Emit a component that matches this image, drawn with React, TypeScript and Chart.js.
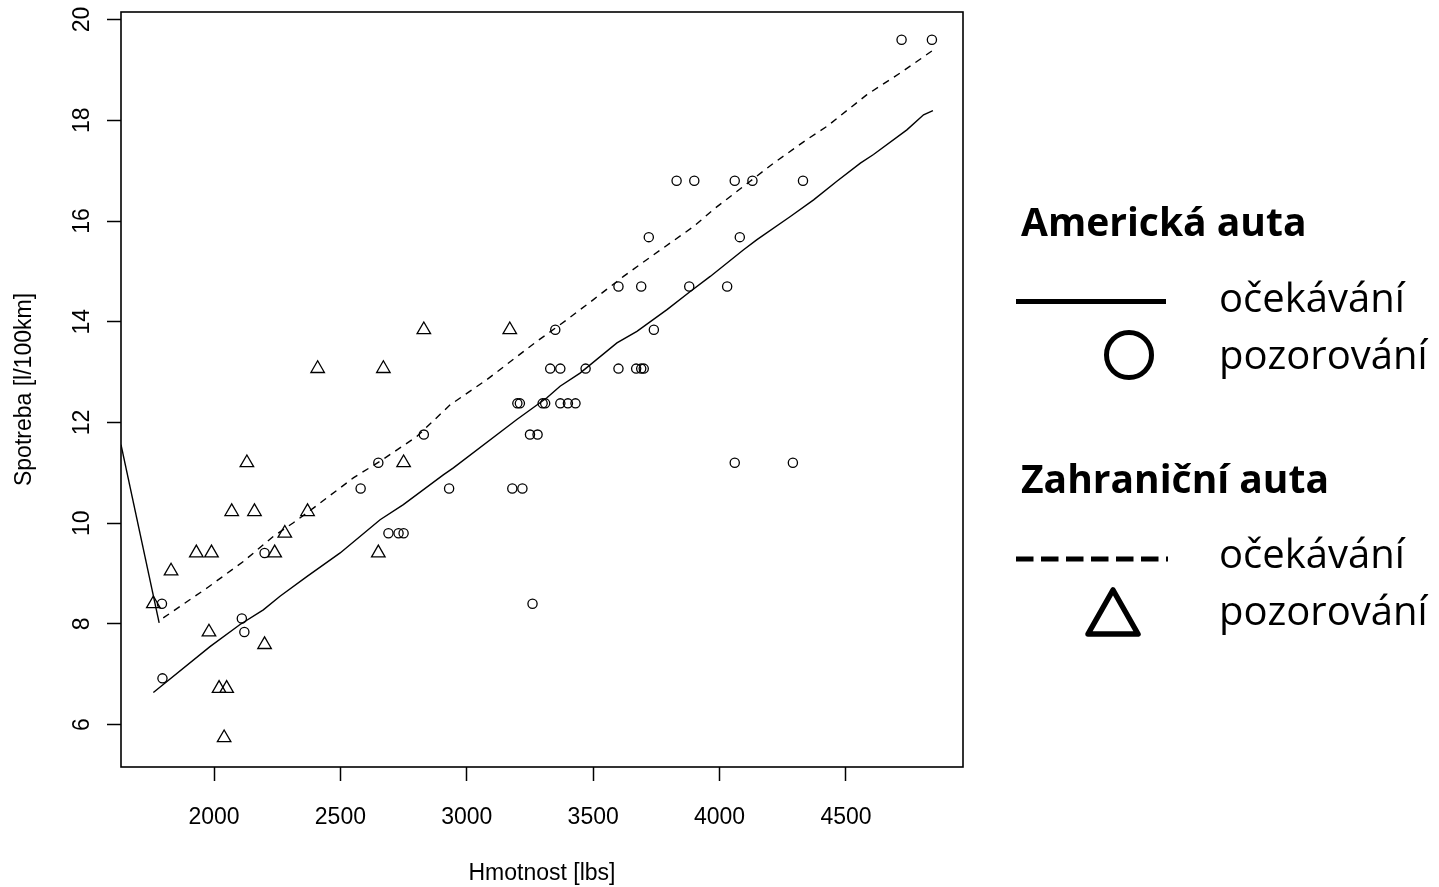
import React, { useEffect, useRef } from 'react';
import { Chart, registerables } from 'chart.js';

Chart.register(...registerables);

// Observed: American cars (weight [lbs], consumption [l/100km])
const americanWeight = [
  1794, 1796, 2110, 2120, 2200, 2580, 2650, 2690, 2730, 2750, 2830, 2930,
  3180, 3220, 3200, 3210, 3250, 3280, 3260, 3300, 3310, 3370, 3400, 3430,
  3330, 3370, 3470, 3600, 3670, 3690, 3700, 3350, 3740, 3600, 3690, 3880,
  4030, 3720, 4080, 3830, 3900, 4060, 4130, 4330, 4060, 4290, 4720, 4840,
];
const americanConsumption = [
  8.4, 6.92, 8.11, 7.84, 9.41, 10.69, 11.2, 9.8, 9.8, 9.8, 11.76, 10.69,
  10.69, 10.69, 12.38, 12.38, 11.76, 11.76, 8.4, 12.38, 12.38, 12.38, 12.38, 12.38,
  13.07, 13.07, 13.07, 13.07, 13.07, 13.07, 13.07, 13.84, 13.84, 14.7, 14.7, 14.7,
  14.7, 15.68, 15.68, 16.8, 16.8, 16.8, 16.8, 16.8, 11.2, 11.2, 19.6, 19.6,
];

// Observed: foreign cars
const foreignWeight = [
  1760, 1830, 1930, 1990, 1980, 2020, 2050, 2040, 2070, 2130, 2160, 2200,
  2240, 2280, 2370, 2410, 2650, 2670, 2750, 2830, 3170,
];
const foreignConsumption = [
  8.4, 9.05, 9.41, 9.41, 7.84, 6.72, 6.72, 5.74, 10.23, 11.2, 10.23, 7.59,
  9.41, 9.8, 10.23, 13.07, 9.41, 13.07, 11.2, 13.84, 13.84,
];

// Expected: American cars (solid)
const americanFitWeight = [
  1760, 1984, 2103, 2195, 2261, 2367, 2499, 2657, 2749, 2907, 2947, 3198,
  3317, 3369, 3448, 3594, 3673, 3792, 3884, 3963, 4095, 4148, 4280, 4372,
  4464, 4557, 4609, 4741, 4807, 4844,
];
const americanFitConsumption = [
  6.64, 7.55, 7.99, 8.28, 8.55, 8.94, 9.41, 10.07, 10.37, 10.96, 11.1, 12.06,
  12.49, 12.72, 12.98, 13.58, 13.81, 14.24, 14.6, 14.9, 15.43, 15.63, 16.09, 16.42,
  16.79, 17.15, 17.32, 17.81, 18.11, 18.19,
];

// Expected: foreign cars (dashed)
const foreignFitWeight = [
  1799, 1971, 2116, 2235, 2314, 2393, 2551, 2657, 2802, 2934, 3079, 3277,
  3396, 3501, 3620, 3739, 3897, 3976, 4121, 4214, 4346, 4425, 4583, 4715, 4847,
];
const foreignFitConsumption = [
  8.12, 8.71, 9.24, 9.74, 10.01, 10.3, 10.9, 11.23, 11.72, 12.35, 12.85, 13.61,
  14.04, 14.44, 14.9, 15.33, 15.89, 16.23, 16.79, 17.15, 17.62, 17.88, 18.51, 18.94, 19.4,
];
// Solid lead-in segment entering from the left edge
const foreignLeadWeight = [1632, 1783];
const foreignLeadConsumption = [11.56, 8.02];

const xTicks = [2000, 2500, 3000, 3500, 4000, 4500];
const yTicks = [6, 8, 10, 12, 14, 16, 18, 20];
const xRange = [1632, 4963];
const yRange = [5.16, 20.15];

const toPoints = (xs: number[], ys: number[]) => xs.map((x, i) => ({ x, y: ys[i] }));

const AXIS_FONT = 'Liberation Sans, Arial, sans-serif';
const LEGEND_FONT = 'Open Sans, sans-serif';

const framePlugin = {
  id: 'frame',
  afterDatasetsDraw(chart: any) {
    const { ctx, chartArea: a } = chart;
    ctx.save();
    ctx.strokeStyle = '#000';
    ctx.lineWidth = 1.6;
    ctx.strokeRect(a.left, a.top, a.right - a.left, a.bottom - a.top);
    ctx.restore();
  },
};

export default function App() {
  const canvasRef = useRef<HTMLCanvasElement | null>(null);

  useEffect(() => {
    const canvas = canvasRef.current;
    if (!canvas) return;
    const lineCommon = {
      showLine: true,
      pointRadius: 0,
      pointHoverRadius: 0,
      borderColor: '#000',
      borderWidth: 1.4,
      backgroundColor: 'transparent',
      fill: false,
      tension: 0,
    };
    const chart = new Chart(canvas, {
      type: 'scatter',
      data: {
        datasets: [
          {
            label: 'Americká auta – očekávání',
            data: toPoints(americanFitWeight, americanFitConsumption),
            ...lineCommon,
          },
          {
            label: 'Zahraniční auta – očekávání',
            data: toPoints(foreignFitWeight, foreignFitConsumption),
            ...lineCommon,
            borderDash: [7, 6],
          },
          {
            label: 'Zahraniční auta – očekávání (začátek)',
            data: toPoints(foreignLeadWeight, foreignLeadConsumption),
            ...lineCommon,
          },
          {
            label: 'Americká auta – pozorování',
            data: toPoints(americanWeight, americanConsumption),
            pointStyle: 'circle',
            pointRadius: 4.6,
            pointBorderWidth: 1.3,
            pointBorderColor: '#000',
            pointBackgroundColor: 'transparent',
            showLine: false,
          },
          {
            label: 'Zahraniční auta – pozorování',
            data: toPoints(foreignWeight, foreignConsumption),
            pointStyle: 'triangle',
            pointRadius: 7.8,
            pointBorderWidth: 1.3,
            pointBorderColor: '#000',
            pointBackgroundColor: 'transparent',
            showLine: false,
          },
        ],
      },
      options: {
        animation: false,
        responsive: false,
        devicePixelRatio: 1,
        events: [],
        layout: { padding: { left: 0, top: 12, right: 476, bottom: 0 } },
        plugins: {
          legend: { display: false },
          tooltip: { enabled: false },
          title: { display: false },
        },
        scales: {
          x: {
            type: 'linear',
            min: xRange[0],
            max: xRange[1],
            afterBuildTicks: (s: any) => {
              s.ticks = xTicks.map((v) => ({ value: v }));
            },
            afterFit: (s: any) => {
              s.height = 120;
              s.paddingLeft = 0;
              s.paddingRight = 0;
            },
            ticks: {
              color: '#000',
              font: { family: AXIS_FONT, size: 23 },
              padding: 23,
              maxRotation: 0,
              minRotation: 0,
              autoSkip: false,
              callback: (v: any) => String(v),
            },
            grid: {
              drawOnChartArea: false,
              drawTicks: true,
              tickLength: 14,
              color: '#000',
              tickWidth: 1.5,
            },
            border: { display: false },
            title: {
              display: true,
              text: 'Hmotnost [lbs]',
              color: '#000',
              font: { family: AXIS_FONT, size: 23 },
              padding: { top: 0, bottom: 0 },
            },
          },
          y: {
            type: 'linear',
            min: yRange[0],
            max: yRange[1],
            afterBuildTicks: (s: any) => {
              s.ticks = yTicks.map((v) => ({ value: v }));
            },
            afterFit: (s: any) => {
              s.width = 121;
              s.paddingTop = 0;
              s.paddingBottom = 0;
            },
            ticks: {
              color: '#000',
              font: { family: AXIS_FONT, size: 23 },
              padding: 12,
              minRotation: 90,
              maxRotation: 90,
              crossAlign: 'center',
              autoSkip: false,
              callback: (v: any) => String(v),
            },
            grid: {
              drawOnChartArea: false,
              drawTicks: true,
              tickLength: 14,
              color: '#000',
              tickWidth: 1.5,
            },
            border: { display: false },
            title: {
              display: true,
              text: 'Spotreba [l/100km]',
              color: '#000',
              font: { family: AXIS_FONT, size: 23 },
              padding: { top: 11, bottom: 0 },
            },
          },
        },
      } as any,
      plugins: [framePlugin],
    });
    return () => chart.destroy();
  }, []);

  const textStyle = { fontFamily: LEGEND_FONT, fontSize: 40, fill: '#000' } as any;
  const titleStyle = { ...textStyle, fontSize: 39, fontWeight: 700 } as any;

  return (
    <div
      style={{
        position: 'fixed',
        left: 0,
        top: 0,
        width: 1439,
        height: 887,
        background: '#fff',
        overflow: 'hidden',
      }}
    >
      <canvas
        ref={canvasRef}
        width={1439}
        height={887}
        style={{ display: 'block', width: 1439, height: 887 }}
      />
      <svg
        width={1439}
        height={887}
        style={{ position: 'absolute', left: 0, top: 0, pointerEvents: 'none' }}
      >
        <text x={1021} y={236} style={titleStyle}>Americká auta</text>
        <line x1={1016} x2={1166} y1={301.5} y2={301.5} stroke="#000" strokeWidth={5} />
        <text x={1219} y={312} style={textStyle}>očekávání</text>
        <circle cx={1129} cy={355} r={22.5} fill="none" stroke="#000" strokeWidth={5} />
        <text x={1219} y={369} style={textStyle}>pozorování</text>

        <text x={1021} y={493} style={titleStyle}>Zahraniční auta</text>
        <line
          x1={1016}
          x2={1168}
          y1={559}
          y2={559}
          stroke="#000"
          strokeWidth={5}
          strokeDasharray="17.5 7.5"
        />
        <text x={1219} y={568} style={textStyle}>očekávání</text>
        <polygon
          points="1113,590 1138,634 1088,634"
          fill="none"
          stroke="#000"
          strokeWidth={5.5}
          strokeLinejoin="round"
        />
        <text x={1219} y={625} style={textStyle}>pozorování</text>
      </svg>
    </div>
  );
}
